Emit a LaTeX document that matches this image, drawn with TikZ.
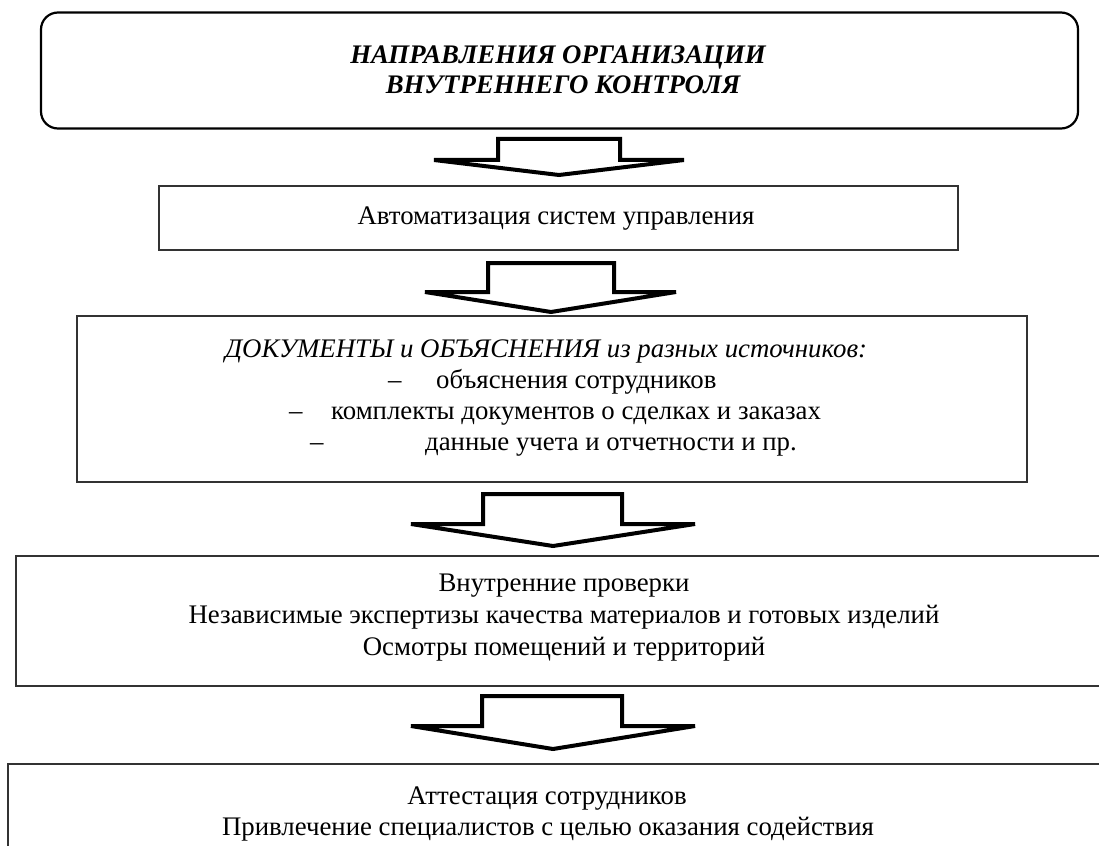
\documentclass[tikz,border=0pt]{standalone}
\usepackage{fontspec}
\setmainfont{Liberation Serif}
\usetikzlibrary{calc}
\begin{document}
\begin{tikzpicture}[x=1pt,y=-1pt,
  topbox/.style={draw=black, line width=2.2pt, rounded corners=17pt, inner sep=0pt},
  plainbox/.style={draw=black!80, line width=1.3pt, inner sep=0pt},
  txt/.style={inner sep=0pt, font=\fontsize{26.8}{30}\selectfont},
  txtbi/.style={inner sep=0pt, font=\fontsize{26.8}{30}\selectfont\bfseries\itshape},
  txti/.style={inner sep=0pt, font=\fontsize{26.8}{30}\selectfont\itshape},
  blockarr/.style={draw=black, line width=4pt, fill=white, line join=miter, miter limit=4}]
\useasboundingbox (0,0) rectangle (1099,845);
\clip (0,0) rectangle (1099,845);
% boxes
\node[topbox, minimum width=1037pt, minimum height=116pt] (top) at (559.5,70.5) {};
\node[plainbox, minimum width=799pt, minimum height=64pt] (b2) at (558.5,218) {};
\node[plainbox, minimum width=950pt, minimum height=166pt] (b3) at (552,399) {};
\node[plainbox, minimum width=1100pt, minimum height=130pt] (b4) at (566,621) {};
\node[plainbox, minimum width=1120pt, minimum height=140pt] (b5) at (568,834) {};
% texts
\node[txtbi, anchor=base] (t1a) at (558,64) {НАПРАВЛЕНИЯ ОРГАНИЗАЦИИ};
\node[txtbi, anchor=base] (t1b) at (563,94) {ВНУТРЕННЕГО КОНТРОЛЯ};
\node[txt, anchor=base] (t2) at (556,224) {Автоматизация систем управления};
\node[txti, anchor=base west] (t3a) at (225,357) {ДОКУМЕНТЫ и ОБЪЯСНЕНИЯ из разных источников:};
\node[txt, anchor=base west] (t3bd) at (388,388) {–};
\node[txt, anchor=base west] (t3b) at (436,388) {объяснения сотрудников};
\node[txt, anchor=base west] (t3cd) at (289,419) {–};
\node[txt, anchor=base west] (t3c) at (331,419) {комплекты документов о сделках и заказах};
\node[txt, anchor=base west] (t3dd) at (310,450) {–};
\node[txt, anchor=base west] (t3d) at (425,450) {данные учета и отчетности и пр.};
\node[txt, anchor=base] (t4a) at (564,591) {Внутренние проверки};
\node[txt, anchor=base] (t4b) at (564,623) {Независимые экспертизы качества материалов и готовых изделий};
\node[txt, anchor=base] (t4c) at (564,655) {Осмотры помещений и территорий};
\node[txt, anchor=base] (t5a) at (547,804) {Аттестация сотрудников};
\node[txt, anchor=base] (t5b) at (548,835) {Привлечение специалистов с целью оказания содействия};
% block arrows
\draw[blockarr] (498,139) -- (620,139) -- (620,160) -- (684,160) -- (559,175) -- (434,160) -- (498,160) -- cycle;
\draw[blockarr] (488,263) -- (614,263) -- (614,292) -- (676,292) -- (551,312) -- (425,292) -- (488,292) -- cycle;
\draw[blockarr] (483,494) -- (622,494) -- (622,524) -- (695,524) -- (553,546) -- (411,524) -- (483,524) -- cycle;
\draw[blockarr] (482,696) -- (622,696) -- (622,726) -- (695,726) -- (553,749) -- (411,726) -- (482,726) -- cycle;
\end{tikzpicture}
\end{document}
